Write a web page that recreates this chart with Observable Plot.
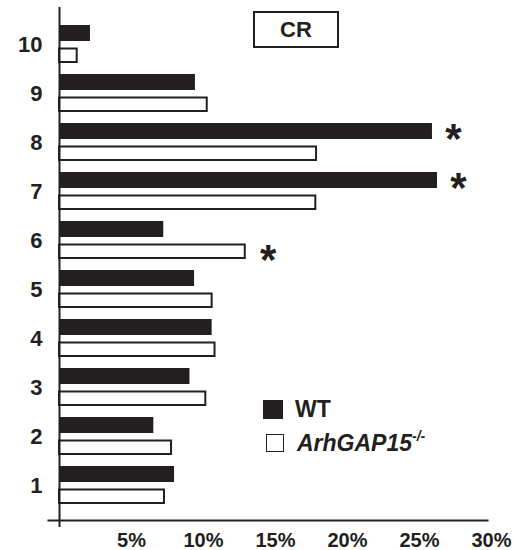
<!DOCTYPE html>
<html>
<head>
<meta charset="utf-8">
<script src="https://cdn.jsdelivr.net/npm/d3@7"></script>
<script src="https://cdn.jsdelivr.net/npm/@observablehq/plot@0.6"></script>
<style>
  html, body { margin: 0; padding: 0; background: #fff; }
  #wrap { position: relative; width: 514px; height: 550px; font-family: "Liberation Sans", Arial, sans-serif; color: #231f20; }
  #wrap svg { position: absolute; left: 0; top: 0; }
  .crbox { position: absolute; left: 253px; top: 11px; width: 86px; height: 37px; box-sizing: border-box;
           border: 2px solid #231f20; font-weight: bold; font-size: 22px; text-align: center; line-height: 33px; }
  .sw { position: absolute; box-sizing: border-box; }
  .lt { position: absolute; font-weight: bold; font-size: 23px; line-height: 23px; white-space: nowrap; }
  .lt sup { font-size: 14px; vertical-align: 0; position: relative; top: -10px; }
</style>
</head>
<body>
<div id="wrap"></div>
<script>
// ---- data ----
const groups   = ["10", "9", "8", "7", "6", "5", "4", "3", "2", "1"];
const wtValues = [2.15, 9.44, 25.9, 26.25, 7.24, 9.38, 10.6, 9.06, 6.55, 7.99];
const koValues = [1.23, 10.26, 17.85, 17.8, 12.9, 10.6, 10.8, 10.16, 7.78, 7.29];
const xTicks   = [5, 10, 15, 20, 25, 30];
const seriesNames = ["WT", "ArhGAP15"];
const koSuperscript = "-/-";
const panelLabel = "CR";
const significant = [
  {group: "8", series: "WT"},
  {group: "7", series: "WT"},
  {group: "6", series: "KO"}
];

const ink = "#231f20";
const wt = groups.map((g, i) => ({group: g, value: wtValues[i]}));
const ko = groups.map((g, i) => ({group: g, value: koValues[i]}));
const stars = significant.map(s => {
  const i = groups.indexOf(s.group);
  return {group: s.group, series: s.series, value: s.series === "WT" ? wtValues[i] : koValues[i]};
});

const chart = Plot.plot({
  width: 514,
  height: 550,
  marginLeft: 59,
  marginRight: 23,
  marginTop: 7,
  marginBottom: 30,
  style: {fontFamily: "'Liberation Sans', Arial, sans-serif", color: ink, background: "transparent"},
  x: {domain: [0, 30], label: null},
  y: {domain: groups, range: [17.6, 511.6], paddingInner: 0.23, paddingOuter: 0.115, label: null},
  marks: [
    Plot.barX(wt, {x: "value", y: "group", fill: ink, insetTop: 0, insetBottom: 22}),
    Plot.barX(ko, {x: "value", y: "group", fill: "white", stroke: ink, strokeWidth: 2, insetTop: 23.5, insetBottom: 1}),
    Plot.ruleX([0], {stroke: ink, strokeWidth: 2, insetBottom: -7}),
    Plot.frame({anchor: "bottom", stroke: ink, strokeWidth: 2, insetLeft: -11, insetRight: 4}),
    Plot.axisX(xTicks, {tickSize: 0, tickPadding: 12, tickFormat: d => d + "%", fontSize: 20, fontWeight: "bold", fill: ink, label: null}),
    Plot.axisY({tickSize: 0, tickPadding: 17, fontSize: 22, fontWeight: "bold", fill: ink, label: null}),
    Plot.text(stars.filter(d => d.series === "WT"), {x: "value", y: "group", text: () => "*", dx: 21, dy: -3, fontSize: 42, fontWeight: "bold", fill: ink, lineAnchor: "middle"}),
    Plot.text(stars.filter(d => d.series === "KO"), {x: "value", y: "group", text: () => "*", dx: 23, dy: 20, fontSize: 42, fontWeight: "bold", fill: ink, lineAnchor: "middle"})
  ]
});

const wrap = document.getElementById("wrap");
wrap.appendChild(chart);

// panel label box
const cr = document.createElement("div");
cr.className = "crbox";
cr.textContent = panelLabel;
wrap.appendChild(cr);

// legend
const sw1 = document.createElement("div");
sw1.className = "sw";
Object.assign(sw1.style, {left: "263px", top: "400px", width: "20px", height: "19px", background: ink});
wrap.appendChild(sw1);
const sw2 = document.createElement("div");
sw2.className = "sw";
Object.assign(sw2.style, {left: "266px", top: "434px", width: "18px", height: "18px", border: "1.5px solid " + ink, background: "#fff"});
wrap.appendChild(sw2);

const t1 = document.createElement("div");
t1.className = "lt";
Object.assign(t1.style, {left: "295px", top: "398px"});
t1.textContent = seriesNames[0];
wrap.appendChild(t1);

const t2 = document.createElement("div");
t2.className = "lt";
Object.assign(t2.style, {left: "297px", top: "432px", fontStyle: "italic"});
t2.appendChild(document.createTextNode(seriesNames[1]));
const sup = document.createElement("sup");
sup.textContent = koSuperscript;
t2.appendChild(sup);
wrap.appendChild(t2);
</script>
</body>
</html>
